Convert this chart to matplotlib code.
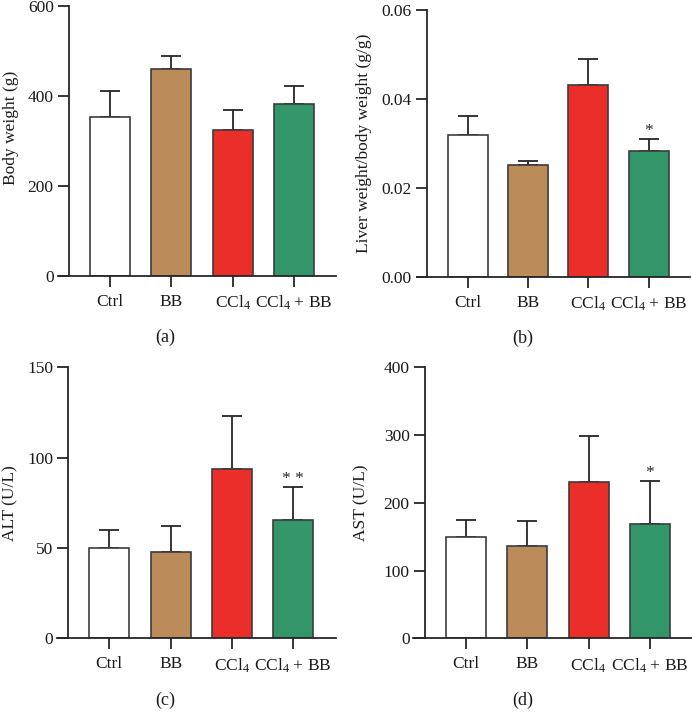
import numpy as np
import matplotlib
matplotlib.use('Agg')
import matplotlib.pyplot as plt

plt.rcParams['font.family'] = ['Liberation Serif', 'DejaVu Serif']
plt.rcParams['mathtext.fontset'] = 'custom'
plt.rcParams['mathtext.rm'] = 'Liberation Serif'
plt.rcParams['mathtext.it'] = 'Liberation Serif:italic'
plt.rcParams['font.size'] = 12.5

# data
groups = ['Ctrl', 'BB', r'CCl$_4$', r'CCl$_4$ + BB']
bar_colors = ['white', '#BC8B5A', '#EC2E2A', '#33966B']

body_weight = [353, 459, 324, 383]
body_weight_sd = [59, 30, 46, 39]
body_ticks = [0, 200, 400, 600]
body_ticklabels = ['0', '200', '400', '600']

liver_ratio = [0.0319, 0.0251, 0.0431, 0.0283]
liver_ratio_sd = [0.0042, 0.0010, 0.0059, 0.0027]
liver_ticks = [0.0, 0.02, 0.04, 0.06]
liver_ticklabels = ['0.00', '0.02', '0.04', '0.06']
liver_stars = ['', '', '', '*']

alt = [49.8, 47.8, 93.7, 65.7]
alt_sd = [10.3, 14.2, 29.4, 18.3]
alt_ticks = [0, 50, 100, 150]
alt_ticklabels = ['0', '50', '100', '150']
alt_stars = ['', '', '', '* *']

ast = [150, 136.3, 230.3, 168.3]
ast_sd = [24.2, 37.4, 67.9, 64.4]
ast_ticks = [0, 100, 200, 300, 400]
ast_ticklabels = ['0', '100', '200', '300', '400']
ast_stars = ['', '', '', '*']

W, H = 692, 721
INK = '#262626'
TXT = '#1a1a1a'


def draw_panel(fig, box, values, errs, ticks, ticklabels, ylabel, tag, tag_pos,
               stars=None, label_x=None, label_y=0.5):
    # box: x-axis start, x-axis end, y-axis x, top, bottom, first bar center, bar step (pixels)
    x0, x1, yax, top, bot, c0, step = box
    ax = fig.add_axes([x0 / W, 1 - bot / H, (x1 - x0) / W, (bot - top) / H])
    xpos = np.arange(len(values))

    ax.errorbar(xpos, values, yerr=[np.zeros(len(values)), errs], fmt='none',
                ecolor=INK, elinewidth=1.3, capsize=7, capthick=1.3, zorder=1)
    ax.bar(xpos, values, width=40 / step, color=bar_colors, edgecolor='#3c3c3c',
           linewidth=1.2, zorder=2)

    if stars:
        for x, v, e, s in zip(xpos, values, errs, stars):
            if s:
                ax.annotate(s, (x, v + e), xytext=(0, 0), textcoords='offset points',
                            ha='center', va='bottom', fontsize=12.5, color=INK)

    ax.set_xlim((x0 - c0) / step, (x1 - c0) / step)
    ax.set_ylim(ticks[0], ticks[-1])
    ax.set_xticks(xpos)
    ax.set_xticklabels(groups)
    ax.set_yticks(ticks)
    ax.set_yticklabels(ticklabels)

    ax.spines['top'].set_visible(False)
    ax.spines['right'].set_visible(False)
    ax.spines['left'].set_position(('axes', (yax - x0) / (x1 - x0)))
    for sp in ['left', 'bottom']:
        ax.spines[sp].set_linewidth(1.3)
        ax.spines[sp].set_color(INK)
    ax.tick_params(length=8, width=1.3, color=INK, labelcolor=TXT,
                   labelsize=12.5)
    ax.tick_params(axis='y', pad=3)
    ax.tick_params(axis='x', pad=5)

    ax.set_ylabel(ylabel, fontsize=12.5, color=TXT)
    ax.yaxis.label.set_va('center')
    ax.yaxis.set_label_coords((label_x - x0) / (x1 - x0), label_y)

    fig.text(tag_pos[0] / W, 1 - tag_pos[1] / H, tag, ha='center', va='center',
             fontsize=13, color=TXT)
    return ax


fig = plt.figure(figsize=(W / 100, H / 100), dpi=100)

draw_panel(fig, (58, 336, 69, 6, 276, 110, 61.3), body_weight, body_weight_sd,
           body_ticks, body_ticklabels, 'Body weight (g)', '(a)', (165, 337),
           label_x=11, label_y=0.548)
draw_panel(fig, (416.7, 690, 426.7, 10, 276.7, 468, 60.2), liver_ratio, liver_ratio_sd,
           liver_ticks, liver_ticklabels, 'Liver weight/body weight (g/g)', '(b)',
           (522.7, 338), stars=liver_stars, label_x=364)
draw_panel(fig, (57.3, 336, 68.3, 367.3, 638.3, 109.3, 61.3), alt, alt_sd,
           alt_ticks, alt_ticklabels, 'ALT (U/L)', '(c)', (165, 700),
           stars=alt_stars, label_x=10)
draw_panel(fig, (412.7, 692, 425, 367.3, 638.3, 465.7, 61.4), ast, ast_sd,
           ast_ticks, ast_ticklabels, 'AST (U/L)', '(d)', (522.7, 700),
           stars=ast_stars, label_x=361)

fig.savefig('out.png', dpi=100)
